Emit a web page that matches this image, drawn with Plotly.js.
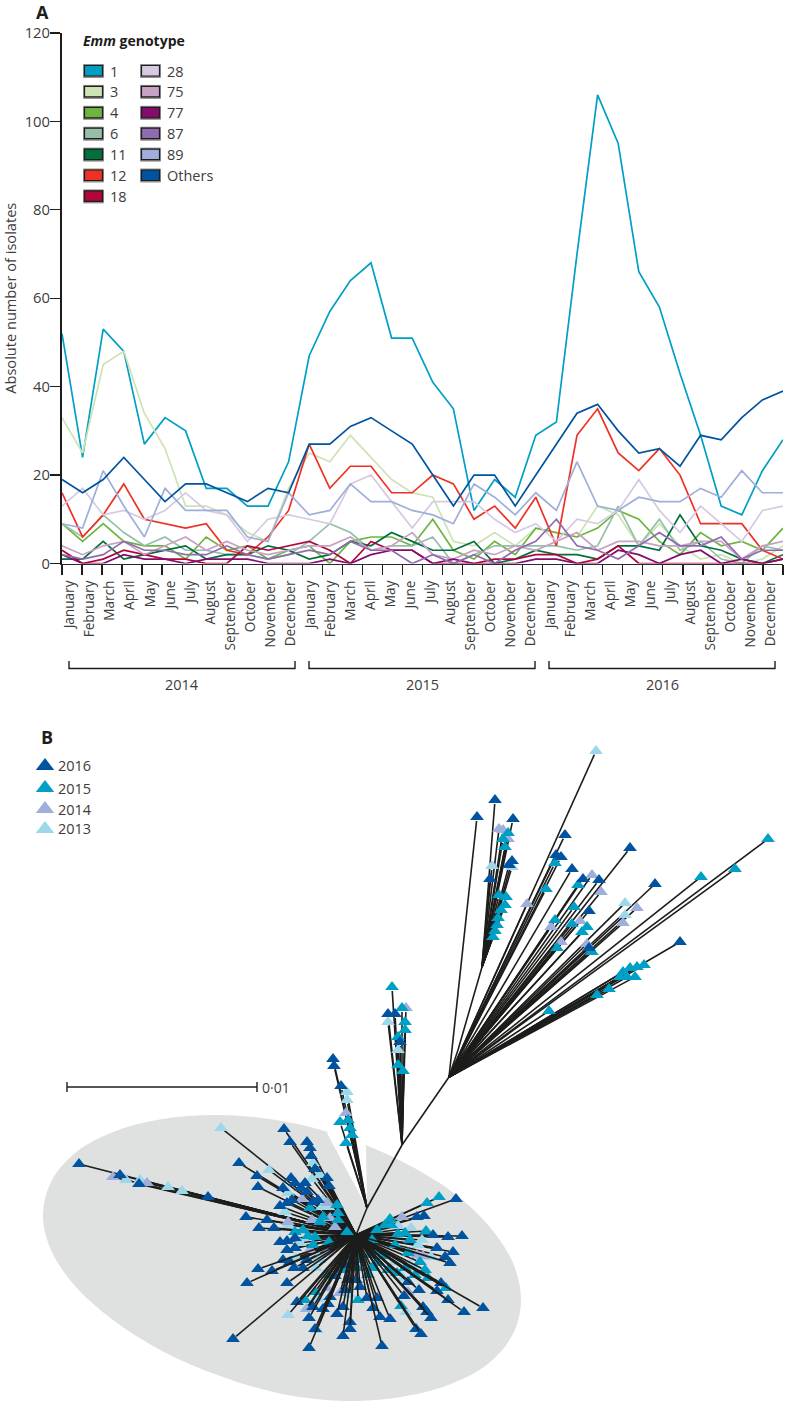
<!DOCTYPE html>
<html><head><meta charset="utf-8">
<script src="https://cdn.plot.ly/plotly-3.0.1.min.js"></script>
<style>html,body{margin:0;padding:0;background:#fff}#c{width:785px;height:1401px}</style>
</head><body><div id="c"></div>
<script>
const monthNames=['January','February','March','April','May','June','July','August','September','October','November','December'];
const months=[...monthNames,...monthNames,...monthNames];
const years=['2014','2015','2016'];
const emm1=[52,24,53,48,27,33,30,17,17,13,13,23,47,57,64,68,51,51,41,35,12,19,15,29,32,70,106,95,66,58,43,29,13,11,21,28];
const emm3=[33,25,45,48,34,26,13,13,11,7,5,17,25,23,29,24,19,16,15,5,4,7,4,8,7,6,13,11,4,9,4,1,2,0,1,4];
const emm4=[9,5,9,5,4,4,1,6,3,4,1,3,4,0,5,6,6,4,10,3,1,5,2,8,7,6,8,12,10,5,2,7,4,5,3,8];
const emm6=[9,6,11,7,4,6,3,3,2,2,1,2,5,9,7,3,4,4,6,0,2,4,4,4,4,3,4,13,4,10,3,5,1,0,4,3];
const emm11=[1,1,5,1,2,3,4,1,2,2,4,3,1,2,5,4,7,5,3,3,5,0,1,3,2,2,1,4,4,3,11,4,3,1,0,2];
const emm12=[16,6,11,18,10,9,8,9,3,2,6,12,27,17,22,22,16,16,20,18,10,13,8,15,4,29,35,25,21,26,20,9,9,9,3,1];
const emm18=[3,0,1,3,2,1,1,0,0,4,3,4,5,3,0,5,3,3,0,0,0,1,1,2,2,0,1,4,0,0,0,0,0,0,0,1];
const emm28=[13,17,11,12,10,12,16,12,11,5,10,11,10,9,18,20,14,8,14,14,14,10,7,9,5,10,9,12,19,12,7,13,9,5,12,13];
const emm75=[4,2,4,5,2,4,6,3,5,3,2,3,4,4,6,3,4,7,2,1,3,2,4,3,5,7,3,5,5,4,4,5,5,1,4,5];
const emm77=[2,0,0,2,1,1,0,1,1,1,0,0,0,1,0,2,3,3,0,1,0,0,0,1,1,0,0,3,2,0,2,3,0,1,0,1];
const emm87=[2,1,2,5,3,3,2,2,4,2,1,2,3,2,5,3,3,0,2,0,2,0,3,5,10,4,3,1,4,7,4,4,6,1,3,3];
const emm89=[9,8,21,13,6,17,12,12,12,6,5,16,11,12,18,14,14,12,11,9,18,15,11,16,12,23,13,12,15,14,14,17,15,21,16,16];
const emmOthers=[19,16,19,24,19,14,18,18,16,14,17,16,27,27,31,33,30,27,20,13,20,20,13,20,27,34,36,30,25,26,22,29,28,33,37,39];
const genotypeNames=['1','3','4','6','11','12','18','28','75','77','87','89','Others'];
const genotypeValues=[emm1,emm3,emm4,emm6,emm11,emm12,emm18,emm28,emm75,emm77,emm87,emm89,emmOthers];
const genotypeColors=['#009FC6','#CDE3B4','#6DB53F','#95BFA9','#00703C','#EE3124','#B1063A','#D6CAE3','#C8A2C6','#860B6E','#8F6BB0','#9FAEDA','#00539F'];
const yTicks=[0,20,40,60,80,100,120];

// Tree nodes (in picture units): x, y, parent
const treeNodes=[[356,1235,-1],[367,1208,0],[402,1145,1],[449,1077,2],[458,1050,3],[482,967,4]];
// Tips: [x, y, parent node]
const tips2016=[[79,1164,0],[120,1175,0],[139,1184,0],[208,1197,0],[239,1163,0],[284,1129,0],[290,1142,0],[307,1142,0],[310,1148,0],[311,1156,0],[315,1169,0],[327,1178,0],[329,1186,0],[257,1176,0],[258,1187,0],[283,1188,0],[291,1178,0],[295,1183,0],[305,1183,0],[301,1188,0],[307,1192,0],[292,1200,0],[287,1203,0],[280,1206,0],[313,1202,0],[318,1200,0],[246,1217,0],[267,1220,0],[259,1228,0],[274,1228,0],[280,1242,0],[287,1241,0],[295,1238,0],[287,1250,0],[295,1248,0],[258,1269,0],[272,1271,0],[247,1283,0],[283,1260,0],[290,1262,0],[287,1283,0],[294,1268,0],[303,1268,0],[307,1260,0],[233,1339,0],[297,1302,0],[309,1318,0],[315,1329,0],[309,1348,0],[343,1336,0],[350,1322,0],[350,1329,0],[337,1314,0],[343,1307,0],[323,1309,0],[328,1304,0],[313,1307,0],[335,1276,0],[348,1280,0],[356,1280,0],[345,1290,0],[367,1298,0],[360,1287,0],[330,1297,0],[377,1298,0],[345,1265,0],[352,1262,0],[456,1199,0],[424,1216,0],[417,1217,0],[462,1236,0],[448,1237,0],[433,1235,0],[453,1252,0],[450,1263,0],[445,1257,0],[437,1248,0],[419,1290,0],[437,1291,0],[441,1283,0],[448,1300,0],[464,1312,0],[483,1308,0],[404,1296,0],[423,1307,0],[427,1312,0],[431,1318,0],[390,1319,0],[416,1329,0],[421,1334,0],[382,1346,0],[380,1317,0],[373,1308,0],[408,1282,0],
[333,1059,1],[334,1066,1],[341,1086,1],
[388,1014,2],[395,1014,2],[400,1042,2],
[477,817,3],[495,800,5],[513,819,5],[512,861,5],[509,865,5],[490,879,5],[565,835,3],[556,855,3],[561,857,3],[630,848,3],[572,869,3],[583,879,3],[599,880,3],[655,884,3],[589,911,3],[680,942,3],[589,948,3]];
const tips2015=[[439,1197,0],[427,1203,0],[390,1219,0],[391,1225,0],[377,1230,0],[426,1231,0],[405,1233,0],[398,1234,0],[408,1253,0],[378,1252,0],[385,1256,0],[378,1263,0],[425,1270,0],[428,1278,0],[446,1288,0],[401,1306,0],[358,1300,0],[388,1270,0],[397,1273,0],[305,1300,0],[315,1292,0],[343,1270,0],[328,1275,0],[346,1257,0],[360,1260,0],[377,1262,0],[329,1242,0],[313,1245,0],[353,1252,0],[357,1268,0],[337,1205,0],[338,1213,0],[338,1220,0],[310,1208,0],[323,1217,0],[347,1232,0],[303,1230,0],[320,1222,0],[315,1237,0],[372,1240,0],[385,1225,0],[395,1245,0],[410,1240,0],[420,1262,0],[415,1275,0],[405,1268,0],[372,1268,0],[368,1275,0],[363,1245,0],[370,1255,0],[295,1232,0],[308,1236,0],
[340,1122,1],[348,1120,1],[350,1128,1],[352,1135,1],[346,1143,1],
[392,987,2],[402,1008,2],[405,1022,2],[405,1030,2],[398,1037,2],[398,1065,2],[403,1071,2],
[508,833,5],[503,839,5],[505,847,5],[499,895,5],[506,897,5],[505,905,5],[501,910,5],[498,918,5],[497,925,5],[495,931,5],[493,937,5],
[768,839,3],[735,869,3],[701,877,3],[555,863,3],[546,889,3],[578,885,3],[555,920,3],[574,907,3],[572,924,3],[587,927,3],[582,932,3],[557,948,3],[592,952,3],[644,965,3],[637,967,3],[630,968,3],[623,972,3],[635,977,3],[627,977,3],[620,977,3],[609,989,3],[597,995,3],[549,1011,3]];
const tips2014=[[113,1177,0],[147,1183,0],[288,1222,0],[302,1199,0],[327,1203,0],[312,1220,0],[330,1218,0],[335,1227,0],[340,1293,0],[327,1288,0],[307,1309,0],[310,1250,0],[327,1253,0],[402,1217,0],[417,1255,0],[423,1256,0],[408,1292,0],
[346,1113,1],[406,1008,2],
[499,829,5],[503,830,5],[508,839,5],[592,875,3],[601,892,3],[637,908,3],[623,923,3],[527,904,3],[580,921,3],[551,927,3],[561,942,3],[587,944,3]];
const tips2013=[[221,1128,0],[126,1180,0],[140,1180,0],[168,1187,0],[182,1191,0],[269,1170,0],[288,1193,0],[285,1212,0],[288,1225,0],[313,1163,0],[320,1175,0],[312,1179,0],[322,1207,0],[328,1207,0],[323,1200,0],[288,1315,0],[306,1309,0],[319,1257,0],[318,1299,0],[320,1260,0],[307,1238,0],[317,1330,0],[350,1295,0],[398,1226,0],[411,1228,0],[418,1245,0],[431,1257,0],[403,1278,0],[406,1312,0],[395,1262,0],[410,1265,0],[422,1240,0],[300,1243,0],[296,1258,0],[316,1268,0],
[347,1092,1],[347,1100,1],[388,1022,2],[398,1050,2],
[596,751,3],[625,903,3],[625,915,3],[492,866,5],[512,867,5]];
const treeYears=['2016','2015','2014','2013'];
const treeTips=[tips2016,tips2015,tips2014,tips2013];
const treeColors=['#00539F','#00A0C6','#9FAEDA','#9CD8EA'];
const legendY=[766,788,809,829];
// Grey field outline
const fieldX=[521,513,489,451,401,344,282,220,162,113,75,51,43,51,75,113,162,220,282,344,401,451,489,513,521];
const fieldY=[1300,1334,1363,1384,1397,1401,1394,1376,1351,1320,1286,1250,1216,1182,1153,1132,1119,1115,1121,1137,1161,1191,1226,1263,1300];
const notchX=[327,367,366,350];
const notchY=[1133,1208,1147,1110];
const scaleBarX=[67,257];
const scaleBarLabel='0·01';

const W=785,H=1401;
const px=x=>x/W, py=y=>1-y/H;
const dark='#1d1d1b', txt='#3c3c3b', font='"Open Sans", sans-serif';
const idx=months.map((_,i)=>i);
const traces=[];
genotypeNames.forEach((n,i)=>traces.push({type:'scatter',mode:'lines',name:n,x:idx,y:genotypeValues[i],xaxis:'x',yaxis:'y',line:{color:genotypeColors[i],width:1.7},cliponaxis:false,hoverinfo:'name+y'}));

// tree field
traces.push({type:'scatter',mode:'lines',x:fieldX,y:fieldY,xaxis:'x3',yaxis:'y3',fill:'toself',fillcolor:'#DFE1E1',line:{color:'#DFE1E1',width:0,shape:'spline',smoothing:1},hoverinfo:'skip'});
traces.push({type:'scatter',mode:'lines',x:notchX,y:notchY,xaxis:'x3',yaxis:'y3',fill:'toself',fillcolor:'#fff',line:{color:'#fff',width:0},hoverinfo:'skip'});
// edges: upper branches under the markers, lower branches over them
const ex=[],ey=[],lx=[],ly=[];
treeNodes.forEach(n=>{if(n[2]>=0){const p=treeNodes[n[2]];ex.push(p[0],n[0],null);ey.push(p[1],n[1],null);}});
treeTips.forEach(l=>l.forEach(t=>{const p=treeNodes[t[2]];const dx=t[0]-p[0],dy=t[1]-p[1];const d=Math.hypot(dx,dy);const k=Math.max(0,(d-4)/d);
  const over=t[1]>1262;const ax=over?lx:ex,ay=over?ly:ey;ax.push(p[0],p[0]+dx*k,null);ay.push(p[1],p[1]+dy*k,null);}));
traces.push({type:'scatter',mode:'lines',x:ex,y:ey,xaxis:'x3',yaxis:'y3',line:{color:dark,width:1.6},hoverinfo:'skip'});
// markers
for(let i=3;i>=0;i--){
  traces.push({type:'scatter',mode:'markers',name:treeYears[i],x:treeTips[i].map(t=>t[0]),y:treeTips[i].map(t=>t[1]),xaxis:'x3',yaxis:'y3',marker:{symbol:'triangle-up',size:12,color:treeColors[i],line:{width:0}},cliponaxis:false,hoverinfo:'name'});
}
traces.push({type:'scatter',mode:'lines',x:lx,y:ly,xaxis:'x3',yaxis:'y3',line:{color:dark,width:1.6},hoverinfo:'skip'});
// legend B
const annotations=[],shapes=[];
treeYears.forEach((n,i)=>{traces.push({type:'scatter',mode:'markers',x:[45],y:[legendY[i]],xaxis:'x3',yaxis:'y3',marker:{symbol:'triangle-up',size:16,color:treeColors[i]},cliponaxis:false,hoverinfo:'skip'});
 annotations.push({xref:'paper',yref:'paper',x:px(56),y:py(legendY[i]),xanchor:'left',yanchor:'middle',showarrow:false,text:n,font:{family:font,size:14.5,color:txt}});});
// scale bar
traces.push({type:'scatter',mode:'lines',x:[scaleBarX[0],scaleBarX[0],null,scaleBarX[0],scaleBarX[1],null,scaleBarX[1],scaleBarX[1]],y:[1082,1092,null,1087,1087,null,1082,1092],xaxis:'x3',yaxis:'y3',line:{color:dark,width:1.4},hoverinfo:'skip'});

genotypeNames.forEach((n,i)=>{
  const col=i<7?0:1,row=i<7?i:i-7;
  const x0=col?141:84,yc=71+row*20.9;
  shapes.push({type:'rect',xref:'paper',yref:'paper',x0:px(x0-.5),x1:px(x0+19.5),y0:py(yc-6.5),y1:py(yc+6.5),line:{color:'#8f8f8f',width:1},fillcolor:'#8f8f8f'});
  shapes.push({type:'rect',xref:'paper',yref:'paper',x0:px(x0+.5),x1:px(x0+18.5),y0:py(yc-5.5),y1:py(yc+5),line:{color:dark,width:1.2},fillcolor:genotypeColors[i]});
  annotations.push({xref:'paper',yref:'paper',x:px(col?165:108),y:py(yc),xanchor:'left',yanchor:'middle',showarrow:false,text:n,font:{family:font,size:14.5,color:txt}});
});
annotations.push({xref:'paper',yref:'paper',x:px(81),y:py(41),xanchor:'left',yanchor:'middle',showarrow:false,text:'<b><i>Emm</i> genotype</b>',font:{family:font,size:14,color:dark}});
annotations.push({xref:'paper',yref:'paper',x:px(42),y:py(12),xanchor:'center',yanchor:'middle',showarrow:false,text:'<b>A</b>',font:{family:font,size:18,color:dark}});
annotations.push({xref:'paper',yref:'paper',x:px(47),y:py(737),xanchor:'center',yanchor:'middle',showarrow:false,text:'<b>B</b>',font:{family:font,size:18,color:dark}});
annotations.push({xref:'paper',yref:'paper',x:px(260),y:py(1087),xanchor:'left',yanchor:'middle',showarrow:false,text:scaleBarLabel,font:{family:font,size:14,color:txt}});
[[69,295],[309,535],[549,775]].forEach((b,i)=>{
  shapes.push({type:'path',xref:'paper',yref:'paper',path:`M${px(b[0])},${py(661)} L${px(b[0])},${py(668.5)} L${px(b[1])},${py(668.5)} L${px(b[1])},${py(661)}`,line:{color:dark,width:1.4}});
  annotations.push({xref:'paper',yref:'paper',x:px((b[0]+b[1])/2),y:py(684),xanchor:'center',yanchor:'middle',showarrow:false,text:years[i],font:{family:font,size:14.5,color:txt}});
});

const tickVals=[...months.map((_,i)=>i),36];
const layout={width:W,height:H,margin:{l:0,r:0,t:0,b:0},paper_bgcolor:'#fff',plot_bgcolor:'rgba(0,0,0,0)',showlegend:false,font:{family:font,color:txt},
 xaxis:{domain:[px(62),px(783)],range:[0,35],anchor:'y',showgrid:false,zeroline:false,showticklabels:false,ticks:''},
 xaxis2:{domain:[px(62),px(783)],range:[0,36],anchor:'y',overlaying:'x',side:'bottom',showgrid:false,zeroline:false,tickmode:'array',tickvals:tickVals,ticktext:[...months,''],ticks:'outside',ticklen:10,tickwidth:1.3,tickcolor:dark,showline:true,linecolor:'#2b2b2b',linewidth:1.6,tickangle:-90,ticklabelshift:8,tickfont:{family:font,size:13.6,color:txt}},
 yaxis:{domain:[py(563.5),py(33)],range:[0,120],anchor:'x',showgrid:false,zeroline:false,tickmode:'array',tickvals:yTicks,ticks:'outside',ticklen:10,tickwidth:1.3,tickcolor:dark,showline:true,linecolor:dark,linewidth:2,ticklabelstandoff:-3,tickfont:{family:font,size:14.8,color:txt},title:{text:'Absolute number of isolates',standoff:9,font:{family:font,size:14.6,color:txt}}},
 xaxis3:{domain:[0,1],range:[0,W],anchor:'y3',visible:false},
 yaxis3:{domain:[0,py(710)],range:[H,710],anchor:'x3',visible:false},
 shapes,annotations};
traces.unshift({type:'scatter',mode:'lines',x:[0],y:[0],xaxis:'x2',yaxis:'y',showlegend:false,hoverinfo:'skip',line:{width:0}});
Plotly.newPlot('c',traces,layout,{staticPlot:true,displayModeBar:false});
</script></body></html>
